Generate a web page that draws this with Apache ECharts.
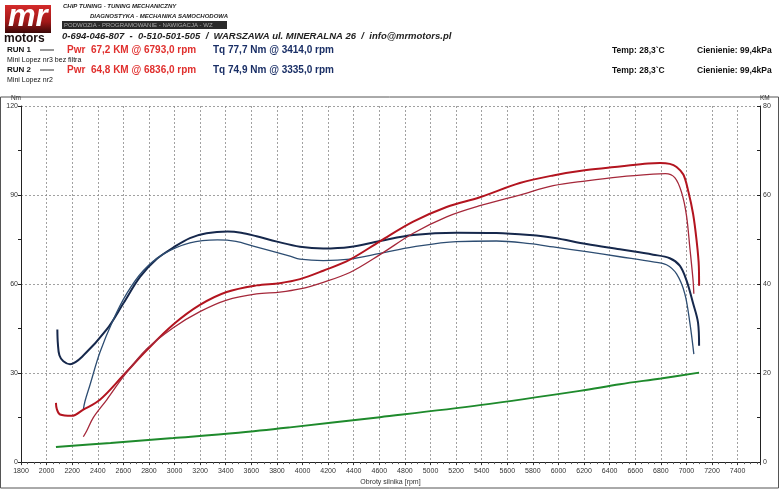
<!DOCTYPE html>
<html><head><meta charset="utf-8">
<script src="https://cdn.jsdelivr.net/npm/echarts@6/dist/echarts.min.js"></script>
<style>html,body{margin:0;padding:0;background:#fff}#c{width:780px;height:491px}</style>
</head><body><div id="c"></div>
<script>
// ---- data ----
const xTicks = [1800,2000,2200,2400,2600,2800,3000,3200,3400,3600,3800,4000,4200,4400,4600,4800,5000,5200,5400,5600,5800,6000,6200,6400,6600,6800,7000,7200,7400];
const nmTicks = [0,30,60,90,120];
const kmTicks = [0,20,40,60,80];

const run1TorqueRpm = [2084,2088,2100,2131,2183,2287,2470,2600,2730,2860,2990,3120,3250,3414,3520,3641,3800,3980,4162,4370,4605,4865,5204,5516,5777,5959,6219,6480,6740,6870,6948,7000,7052,7091,7099];
const run1TorqueNm  = [44.7,40,36,34,33,35.9,44.7,53.5,62.4,68.4,72.3,75.5,77.1,77.7,77.3,76.1,74.3,72.6,72.0,72.5,74.5,76.5,77.3,77.2,76.5,75.6,73.5,71.7,69.9,68.7,66.2,61.3,53.5,46.9,39.2];

const run2TorqueRpm = [2287,2300,2339,2417,2521,2626,2755,2912,3120,3335,3480,3615,3760,3902,3980,4162,4370,4605,4865,5204,5516,5777,5959,6219,6480,6740,6844,6923,6987,7027,7058];
const run2TorqueNm  = [17.7,20.5,26.0,37.0,48.0,56.8,64.5,70.1,73.9,74.9,74.4,72.8,71.1,69.4,68.4,67.9,68.4,70.3,72.5,74.3,74.5,73.6,72.5,70.9,69.2,67.5,66.5,63.4,56.8,46.9,36.4];

const run1PowerRpm = [2073,2080,2105,2196,2287,2417,2600,2782,2990,3198,3407,3641,3823,3980,4162,4370,4605,4865,5126,5386,5698,5959,6219,6480,6700,6793,6870,6923,6976,7014,7052,7079,7097,7099];
const run1PowerKm  = [13.3,11.9,10.7,10.4,11.8,14.0,19.5,25.1,30.9,35.3,38.2,39.7,40.2,41.1,43.0,45.5,49.6,54.0,57.3,59.5,62.7,64.4,65.6,66.4,67.1,67.2,67.0,66.3,64.6,60.9,55.8,49.9,44.0,39.6];

const run2PowerRpm = [2287,2313,2365,2470,2600,2782,2990,3198,3407,3641,3823,3980,4162,4370,4605,4865,5126,5386,5698,5959,6219,6480,6740,6836,6909,6962,7000,7027,7052,7058];
const run2PowerKm  = [5.7,7.0,10.0,14.0,19.2,25.4,30.2,33.8,36.4,37.8,38.2,38.9,40.4,42.6,46.6,51.4,55.1,57.6,60.0,62.1,63.2,64.1,64.7,64.8,63.9,60.6,55.5,48.1,40.8,37.8];

const lossRpm = [2073,2500,2990,3500,3902,4605,5386,6167,6480,6800,7099];
const lossKm  = [3.4,4.3,5.4,6.6,7.8,10.1,12.8,16.0,17.5,18.8,20.1];

// ---- chart ----
const zip = (a,b)=>a.map((v,i)=>[v,b[i]]);
const chart = echarts.init(document.getElementById('c'));
const F = 'Liberation Sans, Arial, sans-serif';
const gridLine = {show:true, lineStyle:{color:'#8a8a8a', width:0.8, type:[2,2]}};
chart.setOption({
  animation:false,
  backgroundColor:'#fff',
  grid:{left:21, right:20, top:106, bottom:22.5, containLabel:false},
  xAxis:{type:'value', min:1800, max:7575, interval:200,
    axisLine:{lineStyle:{color:'#222',width:1}},
    axisTick:{show:true,length:3,lineStyle:{color:'#333'}},
    minorTick:{show:true,splitNumber:4,length:2,lineStyle:{color:'#555'}},
    axisLabel:{fontFamily:F,fontSize:7,color:'#333',margin:5,showMaxLabel:false,
      formatter:v=>xTicks.indexOf(v)>=0?String(v):''},
    splitLine:gridLine,
    name:'Obroty silnika [rpm]', nameLocation:'middle', nameGap:15,
    nameTextStyle:{fontFamily:F,fontSize:7,color:'#333'}},
  yAxis:[
    {type:'value', min:0, max:120, interval:30, position:'left',
     axisLine:{show:true,lineStyle:{color:'#222'}},
     axisTick:{show:true,length:3,inside:false},
     minorTick:{show:true,splitNumber:2,length:3},
     axisLabel:{fontFamily:F,fontSize:7,color:'#333',margin:3,
       formatter:v=>nmTicks.indexOf(v)>=0?String(v):''},
     splitLine:gridLine,
     name:'Nm', nameGap:4, nameTextStyle:{fontFamily:F,fontSize:6.5,color:'#333',align:'right'}},
    {type:'value', min:0, max:80, interval:20, position:'right',
     axisLine:{show:true,lineStyle:{color:'#222'}},
     axisTick:{show:true,length:3,inside:true},
     minorTick:{show:true,splitNumber:2,length:3},
     axisLabel:{fontFamily:F,fontSize:7,color:'#333',margin:3,
       formatter:v=>kmTicks.indexOf(v)>=0?String(v):''},
     splitLine:{show:false},
     name:'KM', nameGap:4, nameTextStyle:{fontFamily:F,fontSize:6.5,color:'#333',align:'left'}}
  ],
  series:[
    {name:'Run1 Tq',type:'line',yAxisIndex:0,smooth:0.35,showSymbol:false,data:zip(run1TorqueRpm,run1TorqueNm),lineStyle:{color:'#16284c',width:2}},
    {name:'Run2 Tq',type:'line',yAxisIndex:0,smooth:0.35,showSymbol:false,data:zip(run2TorqueRpm,run2TorqueNm),lineStyle:{color:'#2d4d72',width:1.3}},
    {name:'Run1 Pwr',type:'line',yAxisIndex:1,smooth:0.35,showSymbol:false,data:zip(run1PowerRpm,run1PowerKm),lineStyle:{color:'#b3141f',width:2}},
    {name:'Run2 Pwr',type:'line',yAxisIndex:1,smooth:0.35,showSymbol:false,data:zip(run2PowerRpm,run2PowerKm),lineStyle:{color:'#a5283a',width:1.3}},
    {name:'Loss',type:'line',yAxisIndex:1,smooth:0.35,showSymbol:false,data:zip(lossRpm,lossKm),lineStyle:{color:'#1e8a2c',width:2}}
  ],
  graphic:[
    {type:'rect',shape:{x:0.5,y:97,width:778,height:391},style:{fill:'none',stroke:'#555',lineWidth:1},silent:true},
    // logo
    {type:'rect',shape:{x:5,y:5,width:46,height:28},style:{fill:new echarts.graphic.LinearGradient(0,0,0,1,[{offset:0,color:'#d42a2a'},{offset:0.6,color:'#a01818'},{offset:1,color:'#3a0808'}])}},
    {type:'text',left:8,top:2,style:{text:'mr',font:'italic bold 31px '+F,fill:'#fff'}},
    {type:'text',left:4,top:33,style:{text:'motors',font:'bold 12px '+F,fill:'#1a1010'}},
    {type:'text',left:63,top:3,style:{text:'CHIP TUNING - TUNING MECHANICZNY',font:'italic bold 6px '+F,fill:'#222'}},
    {type:'text',left:90,top:13,style:{text:'DIAGNOSTYKA - MECHANIKA SAMOCHODOWA',font:'italic bold 6px '+F,fill:'#222'}},
    {type:'rect',shape:{x:62,y:21,width:165,height:8},style:{fill:'#2a2a2a'}},
    {type:'text',left:64,top:22,style:{text:'PODWOZIA - PROGRAMOWANIE - NAWIGACJA - WZ',font:'6px '+F,fill:'#aaa'}},
    {type:'text',left:62,top:31,style:{text:'0-694-046-807  -  0-510-501-505  /  WARSZAWA ul. MINERALNA 26  /  info@mrmotors.pl',font:'italic bold 9.5px '+F,fill:'#222'}},
    // runs
    {type:'text',left:7,top:46,style:{text:'RUN 1',font:'bold 8px '+F,fill:'#111'}},
    {type:'line',shape:{x1:40,y1:50,x2:54,y2:50},style:{stroke:'#333',lineWidth:1}},
    {type:'text',left:67,top:45,style:{text:'Pwr  67,2 KM @ 6793,0 rpm',font:'bold 10px '+F,fill:'#e0302e'}},
    {type:'text',left:213,top:45,style:{text:'Tq 77,7 Nm @ 3414,0 rpm',font:'bold 10px '+F,fill:'#1a2f66'}},
    {type:'text',left:7,top:57,style:{text:'Mini Lopez nr3 bez filtra',font:'7px '+F,fill:'#111'}},
    {type:'text',left:7,top:66,style:{text:'RUN 2',font:'bold 8px '+F,fill:'#111'}},
    {type:'line',shape:{x1:40,y1:70,x2:54,y2:70},style:{stroke:'#333',lineWidth:1}},
    {type:'text',left:67,top:65,style:{text:'Pwr  64,8 KM @ 6836,0 rpm',font:'bold 10px '+F,fill:'#e0302e'}},
    {type:'text',left:213,top:65,style:{text:'Tq 74,9 Nm @ 3335,0 rpm',font:'bold 10px '+F,fill:'#1a2f66'}},
    {type:'text',left:7,top:77,style:{text:'Mini Lopez nr2',font:'7px '+F,fill:'#111'}},
    {type:'text',left:612,top:46,style:{text:'Temp: 28,3`C',font:'bold 8.5px '+F,fill:'#111'}},
    {type:'text',left:697,top:46,style:{text:'Cienienie: 99,4kPa',font:'bold 8.5px '+F,fill:'#111'}},
    {type:'text',left:612,top:66,style:{text:'Temp: 28,3`C',font:'bold 8.5px '+F,fill:'#111'}},
    {type:'text',left:697,top:66,style:{text:'Cienienie: 99,4kPa',font:'bold 8.5px '+F,fill:'#111'}}
  ]
});
</script></body></html>
